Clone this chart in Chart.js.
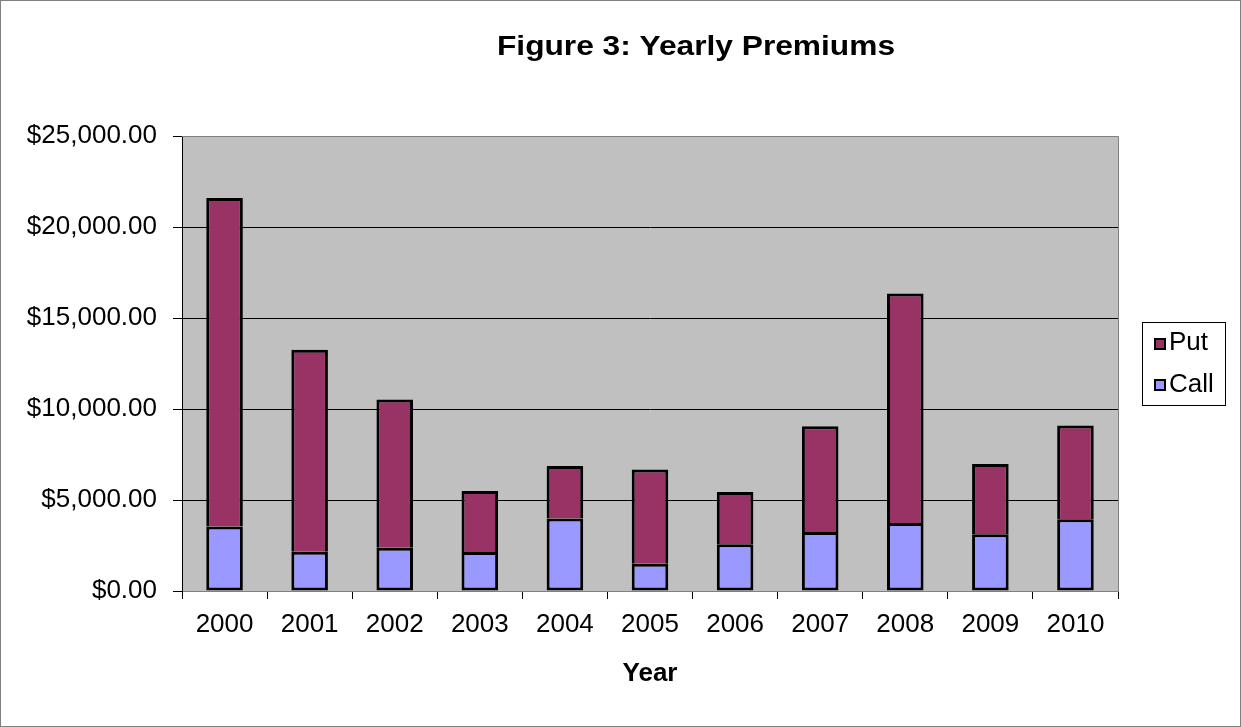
<!DOCTYPE html>
<html>
<head>
<meta charset="utf-8">
<title>Figure 3: Yearly Premiums</title>
<script src="https://cdn.jsdelivr.net/npm/chart.js@4"></script>
<style>
  html, body { margin: 0; padding: 0; background: #fff; }
  canvas { display: block; }
</style>
</head>
<body>
<canvas id="premiumChart" width="1241" height="727"></canvas>
<script>
const years = ['2000', '2001', '2002', '2003', '2004', '2005', '2006', '2007', '2008', '2009', '2010'];
const callPremiums = [3550, 2150, 2380, 2140, 3980, 1500, 2570, 3240, 3740, 3120, 3940];
const putPremiums = [18050, 11100, 8140, 3360, 2890, 5170, 2870, 5810, 12610, 3860, 5150];
const yTicks = [0, 5000, 10000, 15000, 20000, 25000];

const FONT = '"Liberation Sans", Arial, sans-serif';
const PUT_COLOR = '#993366';
const CALL_COLOR = '#9999FF';

// grey plot area, frame, title and the boxed legend
const excelLook = {
  id: 'excelLook',
  beforeDraw(chart) {
    const { ctx, chartArea: a } = chart;
    ctx.save();
    ctx.fillStyle = '#fff';
    ctx.fillRect(0, 0, chart.width, chart.height);
    ctx.fillStyle = '#C0C0C0';
    ctx.fillRect(a.left, a.top, a.right - a.left, a.bottom - a.top);
    ctx.restore();
  },
  afterDraw(chart) {
    const { ctx, chartArea: a } = chart;
    ctx.save();
    // plot frame (top and right)
    ctx.strokeStyle = '#808080';
    ctx.lineWidth = 1;
    ctx.beginPath();
    ctx.moveTo(a.left, a.top + 0.5);
    ctx.lineTo(a.right + 0.5, a.top + 0.5);
    ctx.lineTo(a.right + 0.5, a.bottom);
    ctx.stroke();

    // outer chart border
    ctx.strokeRect(0.5, 0.5, chart.width - 1, chart.height - 1);

    // title, stretched a little wider like the original
    ctx.fillStyle = '#000';
    ctx.font = 'bold 28px ' + FONT;
    ctx.textAlign = 'center';
    ctx.textBaseline = 'alphabetic';
    const title = 'Figure 3: Yearly Premiums';
    const sx = 398 / ctx.measureText(title).width;
    ctx.save();
    ctx.translate(696, 55);
    ctx.scale(sx, 1);
    ctx.fillText(title, 0, 0);
    ctx.restore();

    // legend
    ctx.fillStyle = '#fff';
    ctx.fillRect(1142, 322, 84, 84);
    ctx.strokeStyle = '#000';
    ctx.lineWidth = 1;
    ctx.strokeRect(1142.5, 322.5, 83, 83);
    const items = [
      { label: 'Put', color: PUT_COLOR, y: 338, base: 350 },
      { label: 'Call', color: CALL_COLOR, y: 379, base: 392 }
    ];
    ctx.font = '26px ' + FONT;
    ctx.textAlign = 'left';
    items.forEach(it => {
      ctx.fillStyle = it.color;
      ctx.fillRect(1154, it.y, 12, 12);
      ctx.strokeStyle = '#000';
      ctx.lineWidth = 2;
      ctx.strokeRect(1155, it.y + 1, 10, 10);
      ctx.fillStyle = '#000';
      ctx.fillText(it.label, 1169, it.base);
    });
    ctx.restore();
  }
};

new Chart(document.getElementById('premiumChart').getContext('2d'), {
  type: 'bar',
  data: {
    labels: years,
    datasets: [
      { label: 'Call', data: callPremiums, backgroundColor: CALL_COLOR, borderColor: '#000', borderWidth: 3, borderSkipped: false },
      { label: 'Put', data: putPremiums, backgroundColor: PUT_COLOR, borderColor: '#000', borderWidth: 3, borderSkipped: 'start' }
    ]
  },
  options: {
    responsive: false,
    animation: false,
    layout: { padding: { top: 136, left: 0, right: 123, bottom: 26 } },
    datasets: { bar: { barPercentage: 0.43, categoryPercentage: 1 } },
    plugins: {
      legend: { display: false },
      title: { display: false },
      tooltip: { enabled: false }
    },
    scales: {
      x: {
        stacked: true,
        afterFit: s => { s.height = 110; },
        grid: { drawOnChartArea: false, drawTicks: true, tickLength: 8, color: '#000', offset: true },
        border: { color: '#808080', width: 1 },
        ticks: { color: '#000', font: { family: FONT, size: 26 }, padding: 10, maxRotation: 0 },
        title: { display: true, text: 'Year', color: '#000', font: { family: FONT, size: 26, weight: 'bold' }, padding: { top: 0, bottom: 12 } }
      },
      y: {
        stacked: true,
        min: 0,
        max: 25000,
        afterFit: s => { s.width = 182; },
        afterBuildTicks: s => { s.ticks = yTicks.map(v => ({ value: v })); },
        grid: {
          color: c => (c.tick && c.tick.value === 25000 ? '#808080' : '#000'),
          tickColor: '#000',
          tickLength: 9,
          drawTicks: true
        },
        border: { color: '#000', width: 1 },
        ticks: {
          color: '#000',
          padding: 16,
          font: { family: FONT, size: 26 },
          callback: v => '$' + Number(v).toLocaleString('en-US', { minimumFractionDigits: 2, maximumFractionDigits: 2 })
        }
      }
    }
  },
  plugins: [excelLook]
});
</script>
</body>
</html>
